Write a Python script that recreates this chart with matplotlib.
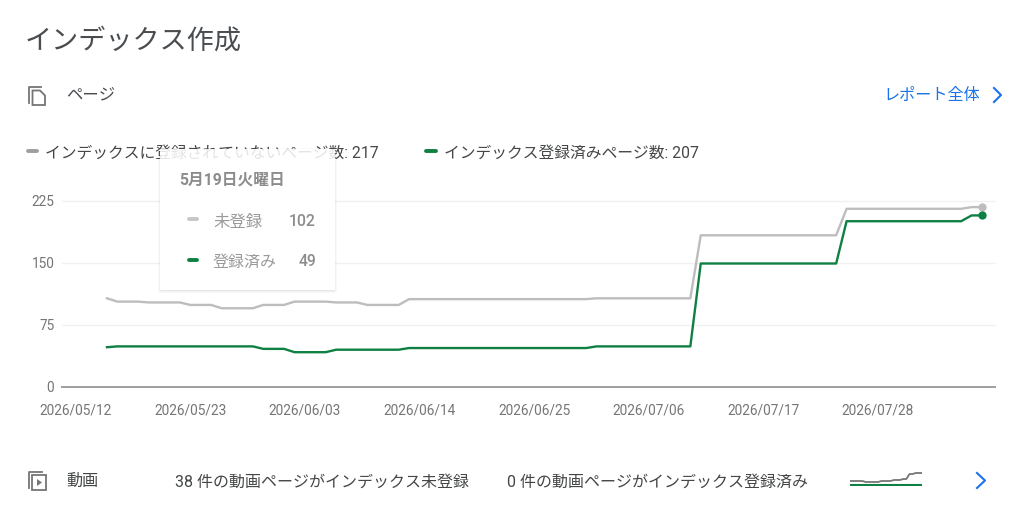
import matplotlib
matplotlib.use("Agg")
import matplotlib.pyplot as plt
import matplotlib.dates as mdates
from matplotlib.patches import FancyBboxPatch, Rectangle, Polygon
import pandas as pd

plt.rcParams['font.family'] = ['Roboto', 'Noto Sans CJK JP', 'DejaVu Sans']

title = "インデックス作成"
section = "ページ"
link = "レポート全体"
legend_grey = "インデックスに登録されていないページ数: 217"
legend_green = "インデックス登録済みページ数: 207"
tip_date = "5月19日火曜日"
tip_labels = ["未登録", "登録済み"]
tip_values = ["102", "49"]
video = "動画"
video_a = "38 件の動画ページがインデックス未登録"
video_b = "0 件の動画ページがインデックス登録済み"

dates = pd.date_range("2026-05-15", "2026-08-07", freq="D")
not_indexed = [107, 103, 103, 103, 102, 102, 102, 102, 99, 99, 99, 95, 95, 95, 95,
               99, 99, 99, 103, 103, 103, 103, 102, 102, 102, 99, 99, 99, 99,
               106, 106, 106, 106, 106, 106, 106, 106, 106, 106, 106, 106, 106, 106, 106, 106, 106, 106,
               107, 107, 107, 107, 107, 107, 107, 107, 107, 107,
               183, 183, 183, 183, 183, 183, 183, 183, 183, 183, 183, 183, 183, 183,
               215, 215, 215, 215, 215, 215, 215, 215, 215, 215, 215, 215,
               217, 217]
indexed = [48, 49, 49, 49, 49, 49, 49, 49, 49, 49, 49, 49, 49, 49, 49,
           46, 46, 46, 42, 42, 42, 42, 45, 45, 45, 45, 45, 45, 45,
           47, 47, 47, 47, 47, 47, 47, 47, 47, 47, 47, 47, 47, 47, 47, 47, 47, 47,
           49, 49, 49, 49, 49, 49, 49, 49, 49, 49,
           149, 149, 149, 149, 149, 149, 149, 149, 149, 149, 149, 149, 149, 149,
           200, 200, 200, 200, 200, 200, 200, 200, 200, 200, 200, 200,
           207, 207]
y_ticks = [0, 75, 150, 225]
x_ticks = pd.date_range("2026-05-12", "2026-07-28", freq="11D")
spark_grey = [4, 4, 4, 4, 4, 3, 3, 3, 3, 3, 4, 4, 4, 4, 5, 5, 5, 6, 6, 11, 11, 12, 12, 12]
spark_green = [0] * 24

W, H = 1024, 515
GREY, GREEN = "#bdbdbd", "#0f8043"
BLUE = "#1a73e8"

fig = plt.figure(figsize=(W / 100, H / 100), dpi=100, facecolor="white")

def box(l, t, r, b):
    return [l / W, 1 - b / H, (r - l) / W, (b - t) / H]

ax = fig.add_axes(box(62, 200.5, 995, 387))
ax.set_facecolor("none")
px_day = 875 / 84
start = mdates.date2num(dates[0])
ax.set_xlim(start - (107 - 62) / px_day, start + (995 - 107) / px_day)
ax.set_ylim(0, 225)
ax.grid(False)
for v in y_ticks[1:]:
    ax.axhline(v, color="#f1f1f1", lw=1, zorder=1, clip_on=False)
ax.plot(dates, not_indexed, color=GREY, lw=1.7, zorder=3, solid_joinstyle="round")
ax.plot(dates, indexed, color=GREEN, lw=1.7, zorder=4, solid_joinstyle="round")
ax.scatter(dates[-1:], not_indexed[-1:], s=36, color=GREY, zorder=5, linewidths=0, clip_on=False)
ax.scatter(dates[-1:], indexed[-1:], s=36, color=GREEN, zorder=5, linewidths=0, clip_on=False)
for s in ["top", "left", "right"]:
    ax.spines[s].set_visible(False)
ax.spines["bottom"].set_color("#9e9e9e")
ax.spines["bottom"].set_linewidth(1.4)
ax.set_yticks(y_ticks)
ax.set_xticks(x_ticks)
ax.xaxis.set_major_formatter(mdates.DateFormatter("%Y/%m/%d"))
ax.tick_params(axis="both", length=0, labelcolor="#757575", labelsize=9.8)
ax.tick_params(axis="x", pad=12)
ax.tick_params(axis="y", pad=5.5)

ov = fig.add_axes([0, 0, 1, 1], zorder=10)
ov.set_xlim(0, W)
ov.set_ylim(H, 0)
ov.axis("off")
ov.patch.set_alpha(0)

def T(x, y, s, size=11.35, color="#444746", ha="left", **kw):
    return ov.text(x, y, s, fontsize=size, color=color, ha=ha, va="center", **kw)

def dash(x0, x1, y, color):
    ov.plot([x0, x1], [y, y], color=color, lw=2.8, solid_capstyle="round")

T(25, 41, title, size=19.5, color="#4a4d50")
T(66, 95, section, size=11.8, color="#4a4d50")
T(883.5, 95, link, size=11.6, color=BLUE)
ov.plot([994, 1001, 994], [88, 95, 102], color=BLUE, lw=1.5)

dash(28, 37, 151, "#9e9e9e")
T(45, 153, legend_grey)
dash(426, 436, 150.5, GREEN)
T(444, 153, legend_green)

# tooltip: shadow and opaque white sit under the legend text, the veil above it
TOP, BOT = 149, 290
for i, a in enumerate([0.025, 0.03, 0.04]):
    d = 3 - i
    ov.add_patch(FancyBboxPatch((160 - d + 1, TOP - d + 2), 175 + 2 * d - 2, BOT - TOP + 2 * d - 2,
                                boxstyle="round,pad=0,rounding_size=2", fc="black", ec="none",
                                alpha=a, zorder=0.5))
ov.add_patch(Rectangle((160, TOP), 175, BOT - TOP, fc="white", ec="none", zorder=0.6))
ov.add_patch(Rectangle((160, TOP), 175, BOT - TOP, fc="white", ec="none", alpha=0.86, zorder=6))
kw = dict(zorder=7)
T(179, 180, tip_date, size=11.3, color="#8c8c8c", fontweight="bold", **kw)
ov.plot([189, 197], [219, 219], color="#c6c6c6", lw=2.8, solid_capstyle="round", zorder=7)
ov.plot([189, 197], [260, 260], color=GREEN, lw=2.8, solid_capstyle="round", zorder=7)
T(213, 222, tip_labels[0], size=11.8, color="#9a9a9a", **kw)
T(213, 262, tip_labels[1], size=11.5, color="#9a9a9a", **kw)
T(316, 221, tip_values[0], size=11.3, color="#8c8c8c", ha="right", fontweight="medium", **kw)
T(316, 261, tip_values[1], size=11.3, color="#8c8c8c", ha="right", fontweight="medium", **kw)

# page icon
ov.plot([28.5, 28.5, 41], [103, 86.5, 86.5], color="#757575", lw=1.3)
ov.add_patch(Polygon([(32.5, 90.5), (40, 90.5), (45, 95.5), (45, 105), (32.5, 105)],
                     closed=True, fc="white", ec="#757575", lw=1.3))
# video icon
ov.plot([28.5, 28.5, 42], [488, 471.5, 471.5], color="#757575", lw=1.3)
ov.add_patch(Rectangle((32, 475), 14, 14.5, fc="white", ec="#757575", lw=1.3))
ov.add_patch(Polygon([(37, 479), (37, 486), (42, 482.5)], closed=True, fc="#757575", ec="none"))

T(66, 481, video, size=11.6)
T(175, 482, video_a, size=11.5)
T(507, 482, video_b, size=11.5)
ov.plot([977, 985, 977], [473, 480.5, 488], color=BLUE, lw=1.5)

sp = fig.add_axes(box(850, 470, 922, 486), zorder=9)
sp.axis("off")
sp.set_xlim(0, len(spark_grey) - 1)
sp.set_ylim(-1, 15)
sp.plot(range(len(spark_grey)), spark_grey, color="#757575", lw=1.3)
sp.plot(range(len(spark_green)), spark_green, color=GREEN, lw=1.5)

fig.savefig("out.png", dpi=100, facecolor="white")
